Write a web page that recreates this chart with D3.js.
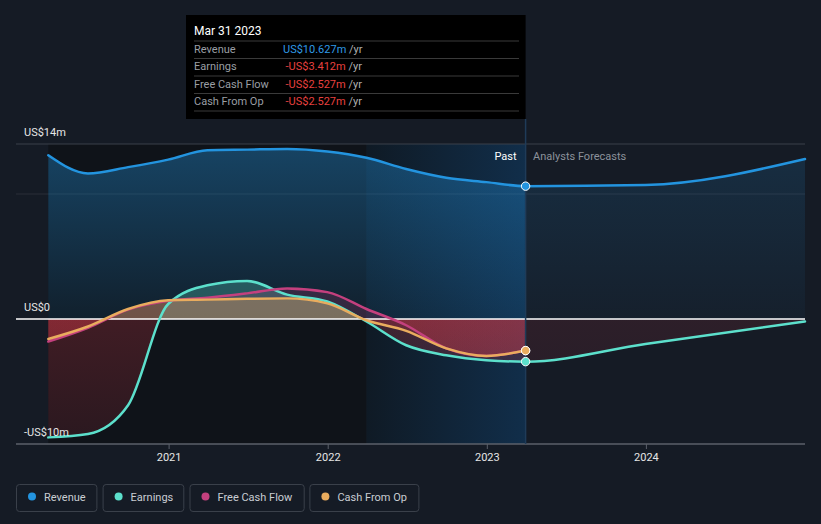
<!DOCTYPE html>
<html><head><meta charset="utf-8">
<script src="https://cdn.jsdelivr.net/npm/d3@7"></script>
<style>
body{margin:0;background:#151b25;}
svg{display:block;font-family:Roboto,"Noto Sans",sans-serif;}
</style></head>
<body><svg id="chart" width="821" height="524"></svg>
<script>
// ---------- data (US$ millions) ----------
const pastDates = ["2020-03-31","2020-06-30","2020-09-30","2020-12-31","2021-03-31","2021-06-30","2021-09-30","2021-12-31","2022-03-31","2022-06-30","2022-09-30","2022-12-31","2023-03-31"];
const forecastDates = ["2023-12-31","2024-12-31"];
const revenuePast = [13.1, 11.65, 12.15, 12.75, 13.5, 13.55, 13.6, 13.4, 12.9, 12.0, 11.3, 10.95, 10.627];
const revenueForecast = [10.72, 12.8];
const earningsPast = [-9.47, -9.2, -6.9, 1.2, 2.7, 3.05, 1.95, 1.4, -0.2, -2.1, -2.9, -3.3, -3.412];
const earningsForecast = [-2.0, -0.2];
const fcfPast = [-1.8, -0.7, 0.75, 1.45, 1.7, 2.05, 2.45, 2.15, 0.8, -0.5, -2.35, -2.96, -2.527];
const cfoPast = [-1.6, -0.6, 0.8, 1.5, 1.55, 1.62, 1.65, 1.25, -0.1, -0.95, -2.35, -2.96, -2.527];
const yGridValues = [14, 10];
const yLabelValues = [14, 0, -10];
const yLabelTexts = ["US$14m", "US$0", "-US$10m"];
const xTickYears = [2021, 2022, 2023, 2024];
const seriesNames = ["Revenue", "Earnings", "Free Cash Flow", "Cash From Op"];
const seriesColors = ["#2394df", "#5ce0cc", "#c4407e", "#e9ac5e"];
const tooltipTitle = "Mar 31 2023";
const tooltipValues = ["US$10.627m", "-US$3.412m", "-US$2.527m", "-US$2.527m"];
const highlightStart = "2022-03-31";

// ---------- setup ----------
const parse = d3.utcParse("%Y-%m-%d");
const svg = d3.select("#chart");
const W = 821, H = 524;
const x = d3.scaleUtc().domain([parse("2020-03-31"), parse("2024-12-31")]).range([48.3, 805]);
const y = d3.scaleLinear().domain([-10, 14]).range([444, 144]);
const zeroY = y(0);
const lastPast = parse(pastDates[pastDates.length - 1]);
const xNow = x(lastPast);
const xStart = x(parse(pastDates[0]));
const xEnd = x.range()[1];

const mk = (dates, vals) => dates.map((d, i) => ({date: parse(d), v: vals[i]}));
const revenue = mk(pastDates.concat(forecastDates), revenuePast.concat(revenueForecast));
const earnings = mk(pastDates.concat(forecastDates), earningsPast.concat(earningsForecast));
const fcf = mk(pastDates, fcfPast);
const cfo = mk(pastDates, cfoPast);

const defs = svg.append("defs");
function vGrad(id, color, y1, y2, o1, o2) {
  const g = defs.append("linearGradient").attr("id", id).attr("gradientUnits", "userSpaceOnUse")
    .attr("x1", 0).attr("x2", 0).attr("y1", y1).attr("y2", y2);
  g.append("stop").attr("offset", 0).attr("stop-color", color).attr("stop-opacity", o1);
  g.append("stop").attr("offset", 1).attr("stop-color", color).attr("stop-opacity", o2);
}
vGrad("revPast", seriesColors[0], y(14), zeroY, 0.38, 0.1);
vGrad("revFore", seriesColors[0], y(14), zeroY, 0.16, 0.04);
vGrad("negPast", "#dc3a48", zeroY, y(-10), 0.24, 0.13);
vGrad("negFore", "#dc3a48", zeroY, y(-10), 0.12, 0.07);

const hl = defs.append("linearGradient").attr("id", "hlBand").attr("x1", 0).attr("x2", 1).attr("y1", 0).attr("y2", 0);
hl.append("stop").attr("offset", 0).attr("stop-color", "#0f1a25");
hl.append("stop").attr("offset", 1).attr("stop-color", "#112e4a");

function clip(id, x0, y0, x1, y1) {
  defs.append("clipPath").attr("id", id).append("rect")
    .attr("x", x0).attr("y", y0).attr("width", x1 - x0).attr("height", y1 - y0);
}
clip("cPastPos", 0, 0, xNow, zeroY);
clip("cPastNeg", 0, zeroY, xNow, H);
clip("cForePos", xNow, 0, W, zeroY);
clip("cForeNeg", xNow, zeroY, W, H);
clip("cPast", 0, 0, xNow, H);
clip("cFore", xNow, 0, W, H);

// ---------- background bands ----------
const xHl = x(parse(highlightStart));
svg.append("rect").attr("x", xStart).attr("y", y(14)).attr("width", xHl - xStart).attr("height", y(-10) - y(14)).attr("fill", "#0f1319");
svg.append("rect").attr("x", xHl).attr("y", y(14)).attr("width", xNow - xHl).attr("height", y(-10) - y(14)).attr("fill", "url(#hlBand)");

// gridlines
svg.selectAll(".grid").data(yGridValues).enter().append("line")
  .attr("x1", 16).attr("x2", xEnd).attr("y1", d => y(d)).attr("y2", d => y(d))
  .attr("stroke", (d, i) => i === 0 ? "#3b414b" : "rgba(255,255,255,0.09)").attr("stroke-width", 1);

// ---------- areas ----------
const area = d3.area().x(d => x(d.date)).y0(zeroY).y1(d => y(d.v)).curve(d3.curveMonotoneX);
const line = d3.line().x(d => x(d.date)).y(d => y(d.v)).curve(d3.curveMonotoneX);

svg.append("path").datum(revenue).attr("d", area).attr("fill", "url(#revPast)").attr("clip-path", "url(#cPast)");
svg.append("path").datum(revenue).attr("d", area).attr("fill", "url(#revFore)").attr("clip-path", "url(#cFore)");

const posAlpha = [0, 0.27, 0.2, 0.33];
[[earnings, 1], [fcf, 2], [cfo, 3]].forEach(([data, i]) => {
  svg.append("path").datum(data).attr("d", area).attr("fill", seriesColors[i]).attr("fill-opacity", posAlpha[i]).attr("clip-path", "url(#cPastPos)");
  svg.append("path").datum(data).attr("d", area).attr("fill", "url(#negPast)").attr("clip-path", "url(#cPastNeg)");
  svg.append("path").datum(data).attr("d", area).attr("fill", seriesColors[i]).attr("fill-opacity", posAlpha[i] * 0.5).attr("clip-path", "url(#cForePos)");
  svg.append("path").datum(data).attr("d", area).attr("fill", "url(#negFore)").attr("clip-path", "url(#cForeNeg)");
});

// zero line
svg.append("line").attr("x1", 16).attr("x2", xEnd).attr("y1", zeroY).attr("y2", zeroY).attr("stroke", "#ffffff").attr("stroke-width", 1.5);

// bottom axis
const xAxis = d3.axisBottom(x)
  .tickValues(xTickYears.map(yr => new Date(Date.UTC(yr, 0, 1))))
  .tickFormat(d3.utcFormat("%Y")).tickSize(5).tickPadding(4);
const ax = svg.append("g").attr("transform", `translate(0,${y(-10)})`).call(xAxis);
ax.select(".domain").remove();
ax.selectAll(".tick line").attr("stroke", "#5b606a");
ax.selectAll(".tick text").attr("fill", "#e6e6e6").attr("font-size", 11).attr("font-family", "Roboto, sans-serif");
svg.append("line").attr("x1", 16).attr("x2", xEnd).attr("y1", y(-10)).attr("y2", y(-10)).attr("stroke", "#5b606a").attr("stroke-width", 1.5);

// ---------- lines ----------
[[revenue, 0], [earnings, 1], [fcf, 2], [cfo, 3]].forEach(([data, i]) => {
  svg.append("path").datum(data).attr("d", line).attr("fill", "none")
    .attr("stroke", seriesColors[i]).attr("stroke-width", 2.5).attr("stroke-linecap", "round");
});

// hover line
svg.append("line").attr("x1", xNow).attr("x2", xNow).attr("y1", 119).attr("y2", y(-10))
  .attr("stroke", "#1f3b58").attr("stroke-width", 1.5);

// markers
const lastVals = [revenuePast, earningsPast, fcfPast, cfoPast].map(a => a[a.length - 1]);
[0, 2, 3, 1].forEach(i => {
  svg.append("circle").attr("cx", xNow).attr("cy", y(lastVals[i])).attr("r", 4.2)
    .attr("fill", seriesColors[i]).attr("stroke", "#ffffff").attr("stroke-width", 1);
});

// y labels
svg.selectAll(".ylab").data(yLabelValues).enter().append("text")
  .attr("x", 24).attr("y", d => y(d) - 8.5).attr("fill", "#e6e6e6").attr("font-size", 11)
  .text((d, i) => yLabelTexts[i]);

// past / forecast labels
svg.append("text").attr("x", xNow - 9).attr("y", 160).attr("text-anchor", "end").attr("fill", "#ffffff").attr("font-size", 11).text("Past");
svg.append("text").attr("x", xNow + 7.5).attr("y", 160).attr("fill", "#8c929b").attr("font-size", 11).text("Analysts Forecasts");

// ---------- tooltip ----------
const tt = svg.append("g");
tt.append("rect").attr("x", 186).attr("y", 15).attr("width", xNow - 186).attr("height", 104).attr("fill", "#000000");
tt.append("text").attr("x", 194).attr("y", 34.5).attr("fill", "#ffffff").attr("font-size", 12).text(tooltipTitle);
const sepY = [41, 58.5, 76, 93.5, 111];
sepY.forEach(sy => tt.append("line").attr("x1", 194).attr("x2", 519).attr("y1", sy).attr("y2", sy).attr("stroke", "#3a3a3a").attr("stroke-width", 1));
const rowY = [52.5, 70, 87.5, 105];
seriesNames.forEach((n, i) => {
  tt.append("text").attr("x", 194).attr("y", rowY[i]).attr("fill", "#9a9ea4").attr("font-size", 11).text(n);
  const t = tt.append("text").attr("x", i === 0 ? 283 : 285.5).attr("y", rowY[i]).attr("font-size", 11);
  t.append("tspan").attr("fill", i === 0 ? "#2f9ae6" : "#e8413f").text(tooltipValues[i]);
  t.append("tspan").attr("fill", "#b0b0b0").text(" /yr");
});

// ---------- legend ----------
const legendX = [16, 102.6, 189.5, 309.4];
const legendW = [81.4, 81.7, 115.2, 110];
seriesNames.forEach((n, i) => {
  const g = svg.append("g").attr("transform", `translate(${legendX[i]},484)`);
  g.append("rect").attr("x", 0.5).attr("y", 0.5).attr("width", legendW[i] - 1).attr("height", 27).attr("rx", 3)
    .attr("fill", "none").attr("stroke", "#3a404a");
  g.append("circle").attr("cx", 16).attr("cy", 12.5).attr("r", 4).attr("fill", seriesColors[i]);
  g.append("text").attr("x", 28).attr("y", 17).attr("fill", "#c9cdd3").attr("font-size", 11).text(n);
});
</script>
</body></html>
